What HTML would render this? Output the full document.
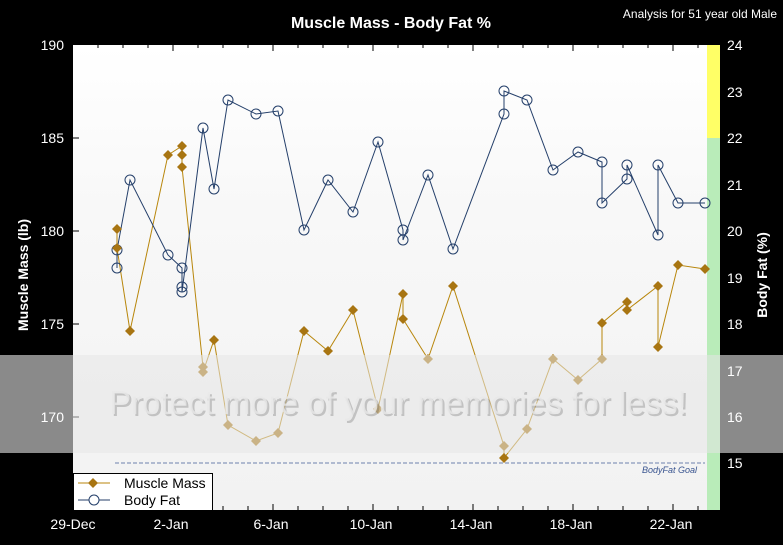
<!DOCTYPE html>
<html><head><meta charset="utf-8"><style>
html,body{margin:0;padding:0;background:#000;}
svg{display:block;font-family:"Liberation Sans",sans-serif;}
</style></head><body>
<svg width="783" height="545" viewBox="0 0 783 545" xmlns="http://www.w3.org/2000/svg">
<defs>
<linearGradient id="bg" x1="0" y1="0" x2="0" y2="1">
<stop offset="0" stop-color="#ffffff"/><stop offset="0.35" stop-color="#f8f8f8"/><stop offset="1" stop-color="#f2f2f2"/>
</linearGradient>
</defs>
<rect width="783" height="545" fill="#000"/>
<rect x="73" y="45" width="634" height="465" fill="url(#bg)"/>
<rect x="707" y="45" width="13" height="93" fill="#ffff66"/>
<rect x="707" y="138" width="13" height="372" fill="#b9ecb9"/>
<text x="391" y="28" fill="#fff" font-size="16" font-weight="bold" text-anchor="middle">Muscle Mass - Body Fat %</text>
<text x="777" y="18" fill="#fff" font-size="12" text-anchor="end">Analysis for 51 year old Male</text>
<g fill="#fff" font-size="14" text-anchor="end">
<text x="64" y="50">190</text><text x="64" y="143">185</text><text x="64" y="236">180</text><text x="64" y="329">175</text>
</g>
<g stroke="#000" stroke-width="1">
<line x1="73" y1="138" x2="79" y2="138"/><line x1="73" y1="231" x2="79" y2="231"/><line x1="73" y1="324" x2="79" y2="324"/><line x1="73" y1="417" x2="79" y2="417"/>
</g>
<g fill="#fff" font-size="14">
<text x="727" y="50">24</text><text x="727" y="97">23</text><text x="727" y="143">22</text><text x="727" y="190">21</text><text x="727" y="236">20</text><text x="727" y="283">19</text><text x="727" y="329">18</text><text x="727" y="468">15</text>
</g>
<text transform="translate(28,275) rotate(-90)" fill="#fff" font-size="14" font-weight="bold" text-anchor="middle">Muscle Mass (lb)</text>
<text transform="translate(767,275) rotate(-90)" fill="#fff" font-size="14" font-weight="bold" text-anchor="middle">Body Fat (%)</text>
<g fill="#fff" font-size="14" text-anchor="middle">
<text x="73" y="529">29-Dec</text><text x="171" y="529">2-Jan</text><text x="271" y="529">6-Jan</text><text x="371" y="529">10-Jan</text><text x="471" y="529">14-Jan</text><text x="571" y="529">18-Jan</text><text x="671" y="529">22-Jan</text>
</g>
<g stroke="#000" stroke-width="1">
<path d="M98 45v3M123 45v3M148 45v3M173 45v6M198 45v3M223 45v3M248 45v3M273 45v6M298 45v3M323 45v3M348 45v3M373 45v6M398 45v3M423 45v3M448 45v3M473 45v6M498 45v3M523 45v3M548 45v3M573 45v6M598 45v3M623 45v3M648 45v3M673 45v6M698 45v3"/>
<path d="M223 510v-4M248 510v-4M273 510v-6M298 510v-4M323 510v-4M348 510v-4M373 510v-6M398 510v-4M423 510v-4M448 510v-4M473 510v-6M498 510v-4M523 510v-4M548 510v-4M573 510v-6M598 510v-4M623 510v-4M648 510v-4M673 510v-6M698 510v-4"/>
</g>
<line x1="115" y1="463" x2="705" y2="463" stroke="#8899bb" stroke-width="1.2" stroke-dasharray="4,2"/>
<text x="697" y="473" fill="#3a5590" font-size="9" font-style="italic" text-anchor="end">BodyFat Goal</text>
<polyline fill="none" stroke="#b8860b" stroke-width="1" points="117,229 117,248 130,331 168,155 182,146 182,155 182,167 203,367 203,372 214,340 228,425 256,441 278,433 304,331 328,351 353,310 378,409 403,294 403,319 428,359 453,286 504,446 504,458 527,429 553,359 578,380 602,359 602,323 627,302 627,310 658,286 658,347 678,265 705,269"/>
<polyline fill="none" stroke="#243f6a" stroke-width="1" points="117,268 117,250 130,180 168,255 182,268 182,287 182,292 203,128 214,189 228,100 256,114 278,111 304,230 328,180 353,212 378,142 403,230 403,240 428,175 453,249 504,114 504,91 527,100 553,170 578,152 602,162 602,203 627,179 627,165 658,235 658,165 678,203 705,203"/>
<g fill="none" stroke="#243f6a" stroke-width="1">
<circle cx="117" cy="268" r="5"/><circle cx="117" cy="250" r="5"/><circle cx="130" cy="180" r="5"/><circle cx="168" cy="255" r="5"/><circle cx="182" cy="268" r="5"/><circle cx="182" cy="287" r="5"/><circle cx="182" cy="292" r="5"/><circle cx="203" cy="128" r="5"/><circle cx="214" cy="189" r="5"/><circle cx="228" cy="100" r="5"/><circle cx="256" cy="114" r="5"/><circle cx="278" cy="111" r="5"/><circle cx="304" cy="230" r="5"/><circle cx="328" cy="180" r="5"/><circle cx="353" cy="212" r="5"/><circle cx="378" cy="142" r="5"/><circle cx="403" cy="230" r="5"/><circle cx="403" cy="240" r="5"/><circle cx="428" cy="175" r="5"/><circle cx="453" cy="249" r="5"/><circle cx="504" cy="114" r="5"/><circle cx="504" cy="91" r="5"/><circle cx="527" cy="100" r="5"/><circle cx="553" cy="170" r="5"/><circle cx="578" cy="152" r="5"/><circle cx="602" cy="162" r="5"/><circle cx="602" cy="203" r="5"/><circle cx="627" cy="179" r="5"/><circle cx="627" cy="165" r="5"/><circle cx="658" cy="235" r="5"/><circle cx="658" cy="165" r="5"/><circle cx="678" cy="203" r="5"/><circle cx="705" cy="203" r="5"/>
</g>
<g fill="#a87512">
<path d="M117 224l5 5-5 5-5-5z"/><path d="M117 243l5 5-5 5-5-5z"/><path d="M130 326l5 5-5 5-5-5z"/><path d="M168 150l5 5-5 5-5-5z"/><path d="M182 141l5 5-5 5-5-5z"/><path d="M182 150l5 5-5 5-5-5z"/><path d="M182 162l5 5-5 5-5-5z"/><path d="M203 362l5 5-5 5-5-5z"/><path d="M203 367l5 5-5 5-5-5z"/><path d="M214 335l5 5-5 5-5-5z"/><path d="M228 420l5 5-5 5-5-5z"/><path d="M256 436l5 5-5 5-5-5z"/><path d="M278 428l5 5-5 5-5-5z"/><path d="M304 326l5 5-5 5-5-5z"/><path d="M328 346l5 5-5 5-5-5z"/><path d="M353 305l5 5-5 5-5-5z"/><path d="M378 404l5 5-5 5-5-5z"/><path d="M403 289l5 5-5 5-5-5z"/><path d="M403 314l5 5-5 5-5-5z"/><path d="M428 354l5 5-5 5-5-5z"/><path d="M453 281l5 5-5 5-5-5z"/><path d="M504 441l5 5-5 5-5-5z"/><path d="M504 453l5 5-5 5-5-5z"/><path d="M527 424l5 5-5 5-5-5z"/><path d="M553 354l5 5-5 5-5-5z"/><path d="M578 375l5 5-5 5-5-5z"/><path d="M602 354l5 5-5 5-5-5z"/><path d="M602 318l5 5-5 5-5-5z"/><path d="M627 297l5 5-5 5-5-5z"/><path d="M627 305l5 5-5 5-5-5z"/><path d="M658 281l5 5-5 5-5-5z"/><path d="M658 342l5 5-5 5-5-5z"/><path d="M678 260l5 5-5 5-5-5z"/><path d="M705 264l5 5-5 5-5-5z"/>
</g>
<rect x="0" y="355" width="73" height="98" fill="#8a8a8a"/>
<rect x="720" y="355" width="63" height="98" fill="#8a8a8a"/>
<rect x="73" y="355" width="647" height="98" fill="#e6e6e6" fill-opacity="0.55"/>
<text x="400" y="416" fill="#444" fill-opacity="0.25" font-size="33" text-anchor="middle">Protect more of your memories for less!</text>
<text x="398" y="414" fill="#e8e8e8" fill-opacity="0.8" font-size="33" text-anchor="middle">Protect more of your memories for less!</text>
<g fill="#fff" font-size="14">
<text x="64" y="422" text-anchor="end">170</text>
<text x="727" y="376">17</text><text x="727" y="422">16</text>
</g>
<rect x="73.5" y="473.5" width="139" height="37" fill="#fff" stroke="#000"/>
<line x1="78" y1="483" x2="110" y2="483" stroke="#b8860b"/><path d="M93 478l5 5-5 5-5-5z" fill="#a87512"/>
<line x1="78" y1="500" x2="110" y2="500" stroke="#243f6a"/><circle cx="94" cy="500" r="5" fill="#fff" stroke="#243f6a"/>
<text x="124" y="488" font-size="14" fill="#000">Muscle Mass</text>
<text x="124" y="505" font-size="14" fill="#000">Body Fat</text>
</svg>
</body></html>
